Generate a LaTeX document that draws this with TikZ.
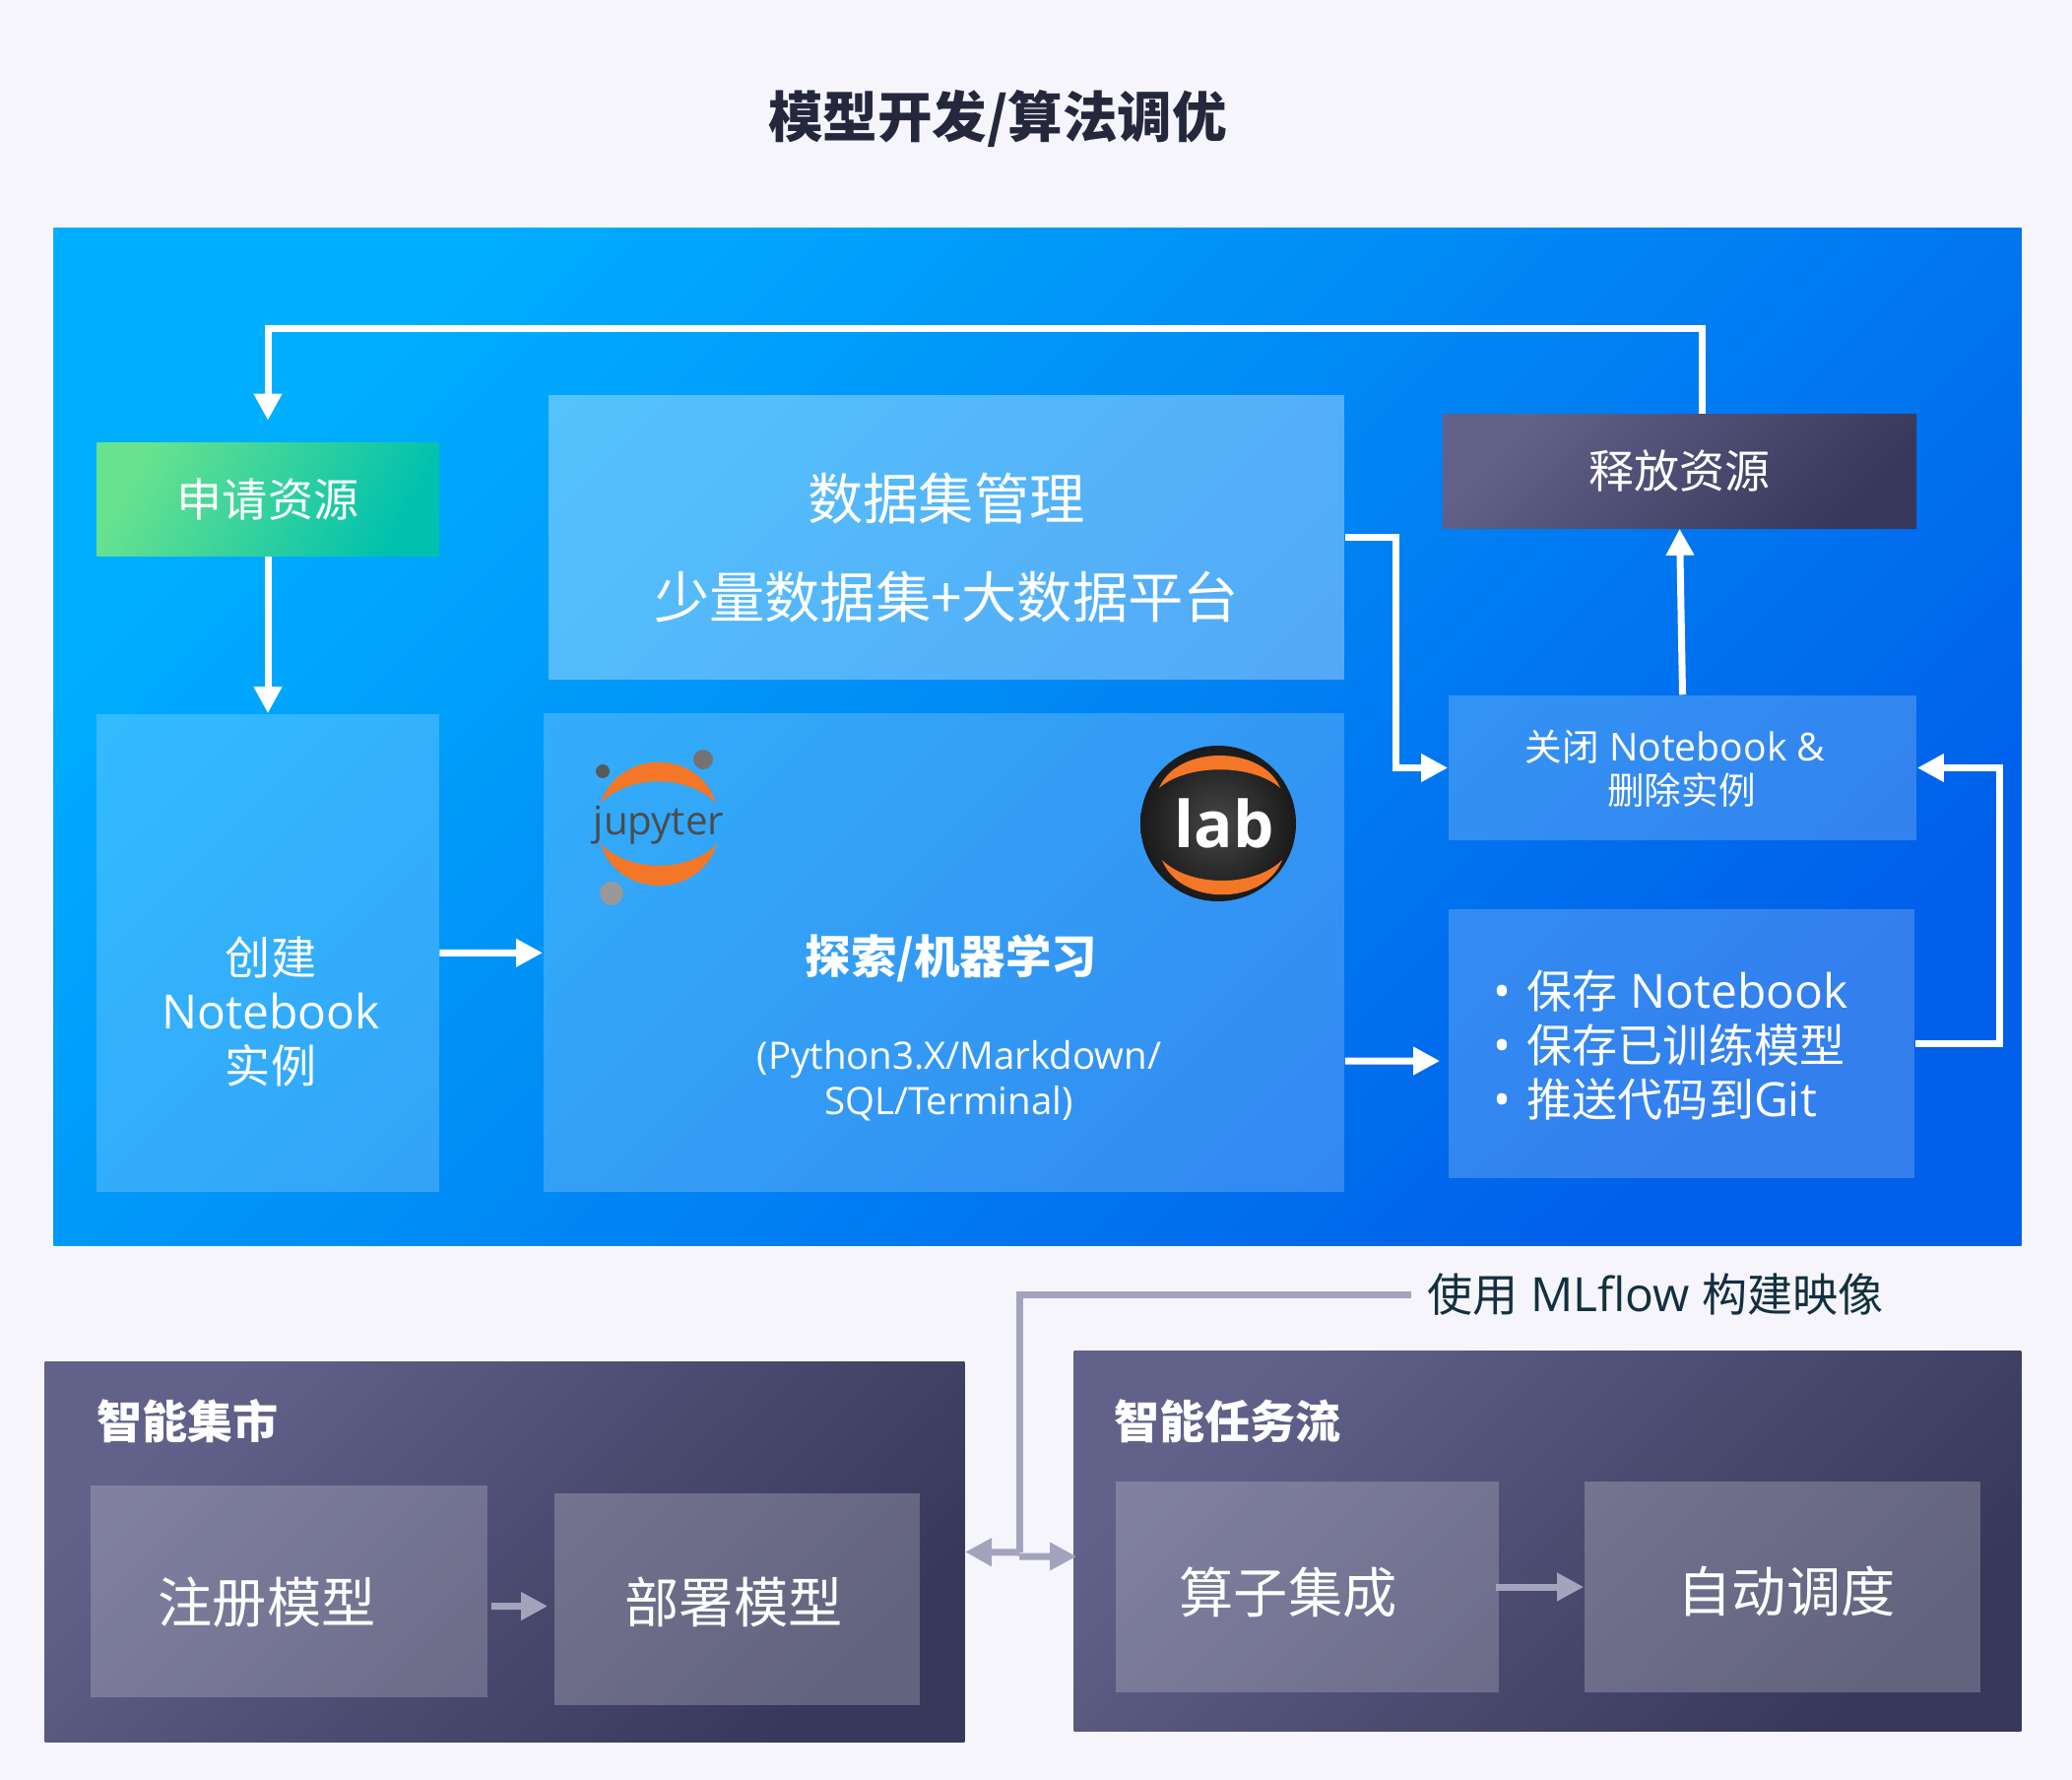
\documentclass[tikz,border=0pt]{standalone}
\usepackage{fontspec}
\setmainfont{Open Sans}[Scale=1.04]
\newfontfamily\cjk{Noto Sans CJK SC}
\usetikzlibrary{arrows.meta}
\definecolor{pagebg}{HTML}{F5F5FB}
\definecolor{bluea}{HTML}{00AEFF}
\definecolor{bluem}{HTML}{0084EC}
\definecolor{blueb}{HTML}{0060EA}
\definecolor{darka}{HTML}{62618A}
\definecolor{darkm}{HTML}{55557A}
\definecolor{darkb}{HTML}{37385A}
\definecolor{greena}{HTML}{68E28E}
\definecolor{greenb}{HTML}{00C1AE}
\definecolor{linegray}{HTML}{A3A3BD}
\definecolor{labelink}{HTML}{13303F}
\definecolor{titleink}{HTML}{25283D}
\definecolor{jorange}{HTML}{F37726}
\newcommand{\pxfont}[2]{\fontsize{#1}{#2}\selectfont}
\begin{document}
\begin{tikzpicture}[x=0.01cm, y=-0.01cm, >={Triangle[length=0.27cm,width=0.27cm]},
        box/.style={minimum width=#1, inner sep=0pt, fill=white, fill opacity=0.22, text opacity=1, text=white, align=center},
        darkbox/.style={minimum width=#1, inner sep=0pt, top color=darka, middle color=darkm, bottom color=darkb, shading angle=45},
        txt/.style={text=white, inner sep=0pt, align=center},
        wline/.style={draw=white, line width=0.07cm},
        gline/.style={draw=linegray, line width=0.07cm}]
    \fill[pagebg] (0,0) rectangle (2104,1807);
    \node[titleink, inner sep=0pt, font=\pxfont{15.8}{18}\bfseries\cjk] (title) at (1013,121) {模型开发/算法调优};
    \node[minimum width=19.97cm, minimum height=10.32cm, inner sep=0pt, top color=bluea, middle color=bluem, bottom color=blueb, shading angle=45] (main) at (1053.5,748) {};

    \node[minimum width=3.47cm, minimum height=1.15cm, inner sep=0pt, text=white, top color=greena, bottom color=greenb, shading angle=60, font=\pxfont{13.1}{16}\cjk] (apply) at (272,507) {申请资源};
    \node[box=8.08cm, minimum height=2.89cm, fill opacity=0.33] (data) at (961,545.5) {};
    \node[txt, font=\pxfont{16}{28.45}\cjk] (datatxt) at (961,556) {数据集管理\\少量数据集+大数据平台};
    \node[box=3.47cm, minimum height=4.85cm, fill opacity=0.2] (create) at (272,967.5) {};
    \node[txt, font=\pxfont{13.1}{15.65}] (createtxt) at (275,1027) {{\cjk 创建}\\Notebook\\{\cjk 实例}};
    \node[box=8.13cm, minimum height=4.86cm, fill opacity=0.2] (explore) at (958.5,967) {};
    \node[darkbox=4.81cm, minimum height=1.15cm, text=white, font=\pxfont{13.1}{16}\cjk] (release) at (1705.5,478.5) {释放资源};
    \node[box=4.75cm, minimum height=1.47cm, fill opacity=0.2] (close) at (1708.5,779.5) {};
    \node[txt, font=\pxfont{10.7}{12.5}] (closetxt) at (1701,780) {{\cjk 关闭} Notebook \&\\\hspace*{0.13cm}{\cjk 删除实例}};
    \node[box=4.73cm, minimum height=2.73cm, fill opacity=0.2] (save) at (1707.5,1059.5) {};
    \node[txt, anchor=west, align=left, font=\pxfont{13.1}{15.65}] (savetxt) at (1516,1061) {\makebox[0.34cm][l]{•}{\cjk 保存} Notebook\\\makebox[0.34cm][l]{•}{\cjk 保存已训练模型}\\\makebox[0.34cm][l]{•}{\cjk 推送代码到}Git};

    \shade[inner color=black!72, outer color=black!90] (1237,836) circle (79);
    \fill[jorange] (1177,800) .. controls (1195,756) and (1282,756) .. (1300,800) .. controls (1272,775) and (1205,775) .. cycle;
    \fill[jorange] (1180,873) .. controls (1198,920) and (1284,920) .. (1302,873) .. controls (1274,901) and (1208,901) .. cycle;
    \node[white, inner sep=0pt, font=\pxfont{17.9}{20}\bfseries] (lab) at (1243,836) {lab};
    \fill[jorange] (610,815) .. controls (628,760) and (710,760) .. (727,815) .. controls (697,786) and (640,786) .. cycle;
    \fill[jorange] (610,857) .. controls (628,913) and (710,913) .. (728,857) .. controls (698,886) and (640,886) .. cycle;
    \fill[black!65] (612,783) circle (7);
    \fill[black!55] (714,771) circle (10);
    \fill[black!40] (621,907) circle (12);
    \node[black!70, inner sep=0pt, font=\pxfont{11}{12}] (jupyter) at (669,838) {jupyter};
    \node[txt, font=\pxfont{13.2}{16}\bfseries\cjk] (exploretxt) at (966,973) {探索/机器学习};
    \node[txt, font=\pxfont{10.5}{13.1}] (exploresub) at (974,1097) {(Python3.X/Markdown/\\SQL/Terminal)\hspace*{0.21cm}};

    \draw[wline,->] ([xshift=0.225cm]release.north) -- ++(0,-87) -| ([yshift=0.22cm]apply.north);
    \draw[wline,->] (apply) -- (create);
    \draw[wline,->] (data.east) -- ++(52,0) |- (close.west);
    \draw[wline,->] (close.north) -- (release.south);
    \draw[wline,->] (save.east) -- ++(86,0) |- (close.east);
    \draw[wline,->] (create) -- (explore);
    \draw[wline,->] ([yshift=-1.1cm]explore.east) -- ([xshift=-0.08cm,yshift=-0.175cm]save.west);

    \node[darkbox=9.33cm, minimum height=3.85cm] (market) at (512.5,1575.5) {};
    \node[darkbox=9.61cm, minimum height=3.85cm] (flow) at (1571.5,1564.5) {};
    \node[txt, anchor=west, font=\pxfont{13.1}{16}\bfseries\cjk] (markettxt) at (98,1443) {智能集市};
    \node[txt, anchor=west, font=\pxfont{13.1}{16}\bfseries\cjk] (flowtxt) at (1131,1443) {智能任务流};
    \node[box=4.03cm, minimum height=2.15cm, fill opacity=0.2] (register) at (293.5,1615.5) {};
    \node[txt, font=\pxfont{15.7}{18}\cjk] (registertxt) at (271,1627) {注册模型};
    \node[box=3.71cm, minimum height=2.15cm, fill opacity=0.22] (deploy) at (748.5,1623.5) {};
    \node[txt, font=\pxfont{15.7}{18}\cjk] (deploytxt) at (745,1626) {部署模型};
    \node[box=3.89cm, minimum height=2.14cm, fill opacity=0.2] (operator) at (1327.5,1611) {};
    \node[txt, font=\pxfont{15.7}{18}\cjk] (operatortxt) at (1308,1617) {算子集成};
    \node[box=4.02cm, minimum height=2.14cm, fill opacity=0.22] (schedule) at (1810,1611) {};
    \node[txt, font=\pxfont{15.7}{18}\cjk] (scheduletxt) at (1814,1615) {自动调度};

    \draw[gline,->] ([xshift=0.03cm,yshift=-0.15cm]register.east) -- ([xshift=-0.06cm,yshift=-0.07cm]deploy.west);
    \draw[gline,->] ([xshift=-0.04cm]operator.east) -- (schedule.west);
    \node[labelink, anchor=west, inner sep=0pt, font=\pxfont{13.1}{16}] (mlflow) at (1449,1314) {{\cjk 使用} MLflow {\cjk 构建映像}};
    \coordinate (junction) at (1035,1576);
    \draw[gline] ([xshift=-0.16cm]mlflow.west) -| (junction);
    \draw[gline,->] (junction) -- (market.east);
    \draw[gline,->] (junction |- 0,1580) -- ([xshift=0.03cm,yshift=-0.155cm]flow.west);
\end{tikzpicture}
\end{document}
